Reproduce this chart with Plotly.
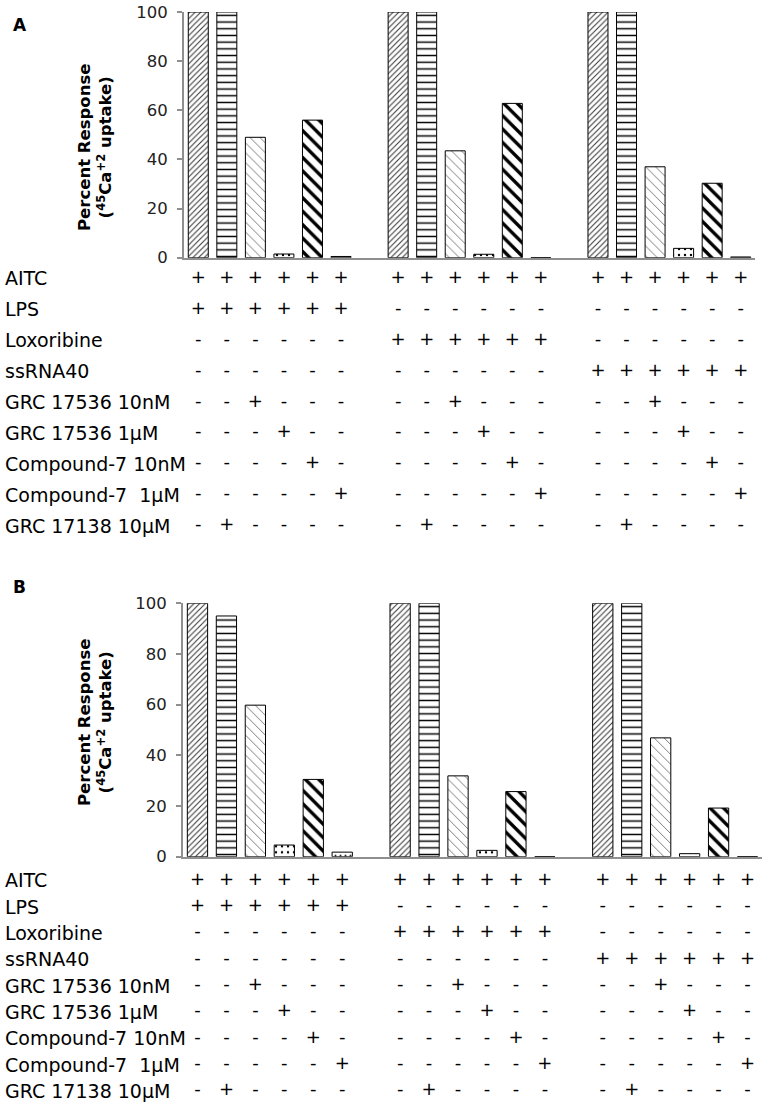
import plotly.graph_objects as go

# percent response (45Ca+2 uptake); bar order inside each group:
# agonist alone, +GRC 17138 10µM, +GRC 17536 10nM, +GRC 17536 1µM, +Compound-7 10nM, +Compound-7 1µM
groups = ["LPS", "Loxoribine", "ssRNA40"]

panel_a_lps = [100, 100, 49, 1.5, 56, 0.5]
panel_a_loxoribine = [100, 100, 43.5, 1.4, 62.8, 0]
panel_a_ssrna40 = [100, 100, 37, 3.8, 30.3, 0.3]

panel_b_lps = [100, 95, 59.8, 4.6, 30.5, 1.8]
panel_b_loxoribine = [100, 100, 31.9, 2.5, 25.7, 0]
panel_b_ssrna40 = [100, 100, 46.9, 1.2, 19.2, 0]

y_ticks = [0, 20, 40, 60, 80, 100]

row_labels = ["AITC", "LPS", "Loxoribine", "ssRNA40", "GRC 17536 10nM", "GRC 17536 1µM",
              "Compound-7 10nM", "Compound-7 \u00a01µM", "GRC 17138 10µM"]
# one character per bar slot, blank = gap between groups
row_signs = [
    "++++++ ++++++ ++++++",
    "++++++ ------ ------",
    "------ ++++++ ------",
    "------ ------ ++++++",
    "--+--- --+--- --+---",
    "---+-- ---+-- ---+--",
    "----+- ----+- ----+-",
    "-----+ -----+ -----+",
    "-+---- -+---- -+----",
]

FONT = "DejaVu Sans"
AXIS_GREY = "#8f8f8f"
W, H = 767, 1108


def px(x):
    return x / W


def py(y):
    return 1 - y / H


bar_styles = [
    dict(shape="/", fgcolor="#333333", size=4, solidity=0.25),
    dict(shape="-", fgcolor="#000000", size=6.7, solidity=0.22),
    dict(shape="\\", fgcolor="#444444", size=7, solidity=0.1),
    dict(shape=".", fgcolor="#000000", size=6, solidity=0.12),
    dict(shape="\\", fgcolor="#000000", size=9.5, solidity=0.35),
    dict(shape=".", fgcolor="#000000", size=5, solidity=0.12),
]

fig = go.Figure()

panels = [
    ("x", "y", "y3", [panel_a_lps, panel_a_loxoribine, panel_a_ssrna40]),
    ("x2", "y2", "y4", [panel_b_lps, panel_b_loxoribine, panel_b_ssrna40]),
]

for xa, ya, ta, series in panels:
    # bars, one trace per treatment position
    for p, style in enumerate(bar_styles):
        xs = [g * 7 + p for g in range(len(groups))]
        ys = [series[g][p] for g in range(len(groups))]
        fig.add_trace(go.Bar(
            x=xs, y=ys, width=0.7, xaxis=xa, yaxis=ya,
            marker=dict(color="white", line=dict(color="black", width=1),
                        pattern=dict(fillmode="replace", bgcolor="white", **style)),
            cliponaxis=False, hoverinfo="skip", showlegend=False,
        ))
    # +/- table
    for r, signs in enumerate(row_signs):
        xs = [i for i, c in enumerate(signs) if c != " "]
        txt = [c for c in signs if c != " "]
        fig.add_trace(go.Scatter(
            x=xs, y=[r] * len(xs), text=txt, mode="text", xaxis=xa, yaxis=ta,
            textfont=dict(family=FONT, size=18, color="black"),
            cliponaxis=False, hoverinfo="skip", showlegend=False,
        ))
    for r, lab in enumerate(row_labels):
        fig.add_annotation(x=px(3), xref="paper", xanchor="left", y=r, yref=ta,
                           yanchor="middle", text=lab, showarrow=False,
                           font=dict(family=FONT, size=19, color="black"))

xstyle = dict(range=[-0.5, 19.5], showline=True, linecolor=AXIS_GREY, linewidth=2,
              showticklabels=False, ticks="", showgrid=False, zeroline=False, automargin=False)
ystyle = dict(range=[0, 100], tickvals=y_ticks, ticks="outside", ticklen=5, tickcolor=AXIS_GREY,
              tickwidth=1.5, showline=True, linecolor=AXIS_GREY, linewidth=2, showgrid=False,
              zeroline=False, ticklabelstandoff=6, automargin=False,
              tickfont=dict(family=FONT, size=16.5, color="#222"))
tstyle = dict(range=[8.5, -0.5], visible=False, automargin=False)

fig.update_layout(
    width=W, height=H, margin=dict(l=0, r=0, t=0, b=0, pad=0),
    paper_bgcolor="white", plot_bgcolor="white", showlegend=False,
    xaxis=dict(domain=[px(184), px(755)], anchor="y", **xstyle),
    yaxis=dict(domain=[py(257.7), py(12)], anchor="x", **ystyle),
    yaxis3=dict(domain=[py(541), py(263)], anchor="x", **tstyle),
    xaxis2=dict(domain=[px(183), px(762)], anchor="y2", **xstyle),
    yaxis2=dict(domain=[py(856.7), py(603.3)], anchor="x2", **ystyle),
    yaxis4=dict(domain=[py(1104), py(867)], anchor="x2", **tstyle),
)

title_txt = "<b>Percent Response<br>(<sup>45</sup>Ca<sup>+2</sup> uptake)</b>"
for letter, ly, ty in [("A", 25, 148), ("B", 587, 723)]:
    fig.add_annotation(x=px(11), y=py(ly), xref="paper", yref="paper", xanchor="left",
                       yanchor="middle", text="<b>%s</b>" % letter, showarrow=False,
                       font=dict(family=FONT, size=17, color="black"))
    fig.add_annotation(x=px(95), y=py(ty), xref="paper", yref="paper", xanchor="center",
                       yanchor="middle", text=title_txt, textangle=-90, showarrow=False,
                       font=dict(family=FONT, size=16.5, color="black"))

# drop the browser's default 8px body margin so the figure fills the window exactly
fig.write_html("out.html", config={"displayModeBar": False},
               post_script="document.body.style.margin='0px';")
